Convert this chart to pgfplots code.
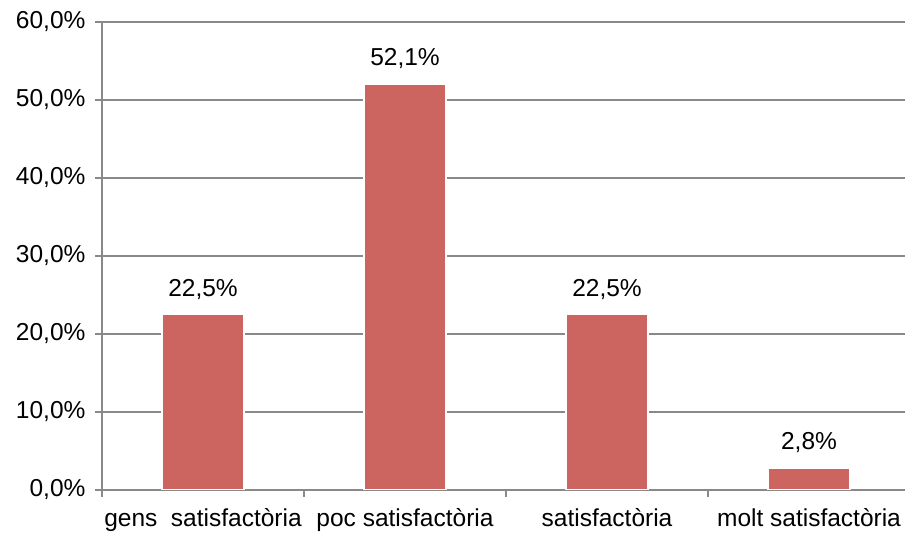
\documentclass[border=0pt]{standalone}
\usepackage{fontspec}
\setmainfont{Liberation Sans}
\usepackage{pgfplots}
\pgfplotsset{compat=1.18}
\definecolor{barred}{RGB}{204,101,96}
\definecolor{gridgray}{RGB}{137,137,137}
\newcommand{\lblfont}{\fontsize{24.5}{29}\selectfont}
\begin{document}
\begin{tikzpicture}
\begin{axis}[
  at={(0,0)}, anchor=south west,
  scale only axis, width=808pt, height=468pt,
  xmin=-0.5, xmax=3.5, ymin=0, ymax=60,
  axis x line*=bottom, axis y line*=left,
  axis line style={draw=gridgray, line width=1.3pt, -},
  ytick={0,10,...,60},
  yticklabels={{0,0\%},{10,0\%},{20,0\%},{30,0\%},{40,0\%},{50,0\%},{60,0\%}},
  yticklabel style={xshift=-6pt},
  ymajorgrids, grid style={gridgray, line width=1.3pt},
  xtick={-0.5,0.5,1.5,2.5,3.5}, xticklabels={},
  extra x ticks={0,1,2,3},
  extra x tick labels={gens\ \ satisfactòria, poc satisfactòria, satisfactòria, molt satisfactòria},
  extra x tick style={major tick length=0pt, grid=none, tick label style={yshift=-15pt}},
  tick align=outside, major tick length=7pt,
  tick style={gridgray, line width=1.3pt},
  tick label style={font=\lblfont, black},
]
\addplot[ybar, bar width=82pt, fill=barred, draw=white, line width=2pt,
  nodes near coords, point meta=explicit symbolic,
  every node near coord/.append style={font=\lblfont, black, yshift=11pt}]
  coordinates {(0,22.5) [22,5\%] (1,52.1) [52,1\%] (2,22.5) [22,5\%] (3,2.8) [2,8\%]};
\end{axis}
\pgfresetboundingbox
\path (-102pt,-45pt) rectangle (803pt,490pt);
\end{tikzpicture}
\end{document}
